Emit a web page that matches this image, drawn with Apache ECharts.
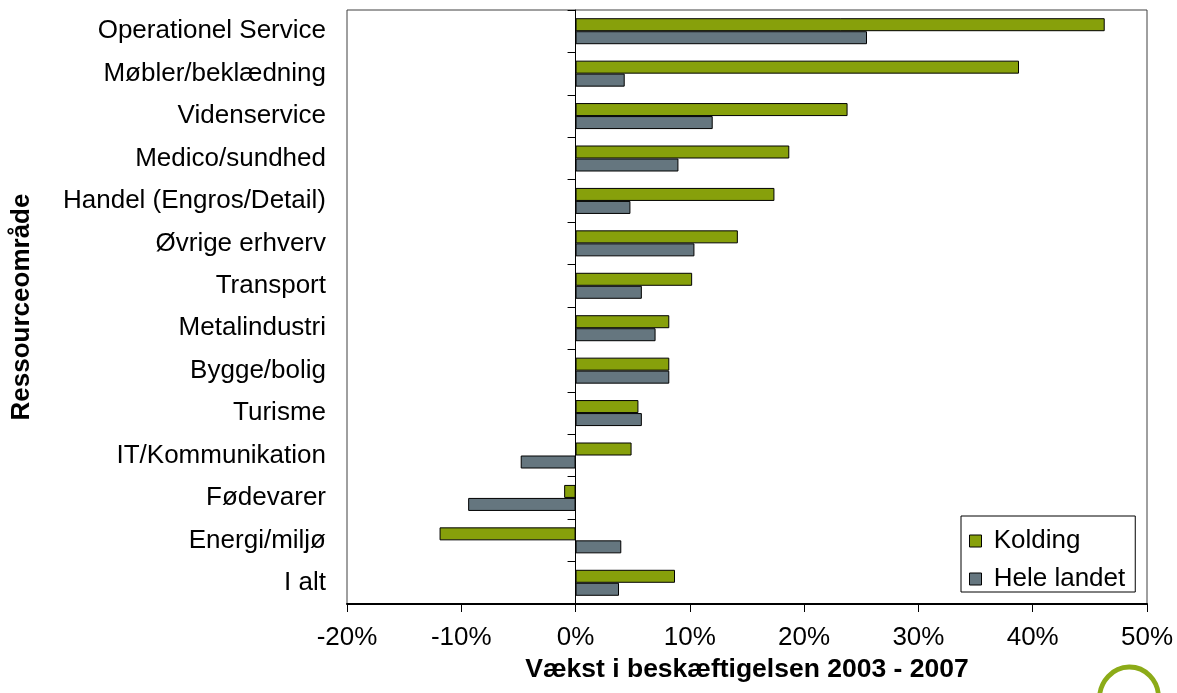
<!DOCTYPE html>
<html>
<head>
<meta charset="utf-8">
<script src="https://cdn.jsdelivr.net/npm/echarts@6/dist/echarts.min.js"></script>
<style>
html,body{margin:0;padding:0;background:#fff;}
#chart{width:1177px;height:693px;}
</style>
</head>
<body>
<div id="chart"></div>
<script>
var categories = ['Operationel Service','Møbler/beklædning','Videnservice','Medico/sundhed','Handel (Engros/Detail)','Øvrige erhverv','Transport','Metalindustri','Bygge/bolig','Turisme','IT/Kommunikation','Fødevarer','Energi/miljø','I alt'];
var kolding = [46.3, 38.8, 23.8, 18.7, 17.4, 14.2, 10.2, 8.2, 8.2, 5.5, 4.9, -1.0, -11.9, 8.7];
var heleLandet = [25.5, 4.3, 12.0, 9.0, 4.8, 10.4, 5.8, 7.0, 8.2, 5.8, -4.8, -9.4, 4.0, 3.8];
var xTicks = {min: -20, max: 50, interval: 10};

var FONT = 'Liberation Sans, Arial, sans-serif';
var chart = echarts.init(document.getElementById('chart'), null, {renderer: 'canvas'});
chart.setOption({
  backgroundColor: '#fff',
  animation: false,
  grid: {left: 347, right: 30, top: 10, bottom: 89, show: true, borderColor: '#404040', borderWidth: 1},
  legend: {
    orient: 'vertical',
    left: 961, top: 516,
    padding: [12, 10, 0, 8],
    itemGap: 12,
    itemWidth: 12, itemHeight: 12,
    icon: 'rect',
    borderColor: '#000', borderWidth: 1,
    backgroundColor: '#fff',
    formatter: function (n) { return ' ' + n; },
    textStyle: {fontFamily: FONT, fontSize: 26, color: '#000', lineHeight: 26},
    itemStyle: {borderColor: '#000', borderWidth: 1},
    data: ['Kolding', 'Hele landet']
  },
  xAxis: {
    type: 'value',
    min: xTicks.min, max: xTicks.max, interval: xTicks.interval,
    name: 'Vækst i beskæftigelsen 2003 - 2007',
    nameLocation: 'middle',
    nameGap: 50,
    nameTextStyle: {fontFamily: FONT, fontSize: 26.5, fontWeight: 'bold', color: '#000'},
    axisLine: {show: true, onZero: false, lineStyle: {color: '#000', width: 2}},
    axisTick: {show: true, inside: false, length: 8, lineStyle: {color: '#000', width: 1}},
    axisLabel: {formatter: '{value}%', fontFamily: FONT, fontSize: 26, color: '#000', margin: 21},
    splitLine: {show: false}
  },
  yAxis: [{
    type: 'category',
    data: categories,
    inverse: true,
    position: 'left',
    name: 'Ressourceområde',
    nameLocation: 'middle',
    nameGap: 312,
    nameTextStyle: {fontFamily: FONT, fontSize: 26, fontWeight: 'bold', color: '#000'},
    axisLine: {show: false, onZero: false},
    axisTick: {show: false},
    axisLabel: {fontFamily: FONT, fontSize: 26, color: '#000', margin: 21, interval: 0}
  }, {
    type: 'category',
    data: categories,
    inverse: true,
    position: 'left',
    axisLine: {show: true, onZero: true, lineStyle: {color: '#000', width: 1}},
    axisTick: {show: true, inside: false, length: 8, interval: 0, lineStyle: {color: '#000', width: 1}},
    axisLabel: {show: false}
  }],
  series: [{
    name: 'Kolding',
    type: 'bar',
    yAxisIndex: 0,
    data: kolding,
    barWidth: 13,
    barGap: '0%',
    itemStyle: {color: '#87A00B', borderColor: '#000', borderWidth: 1}
  }, {
    name: 'Hele landet',
    type: 'bar',
    yAxisIndex: 0,
    data: heleLandet,
    barWidth: 13,
    barGap: '0%',
    itemStyle: {color: '#65767F', borderColor: '#000', borderWidth: 1}
  }],
  graphic: [{
    type: 'arc',
    shape: {cx: 0, cy: 0, r: 31, startAngle: Math.PI * 0.95, endAngle: Math.PI * 2.05},
    x: 1129, y: 698,
    scaleX: 0.95,
    rotation: -0.15,
    style: {stroke: '#8CAB18', lineWidth: 5, fill: null},
    silent: true
  }]
});
</script>
</body>
</html>
